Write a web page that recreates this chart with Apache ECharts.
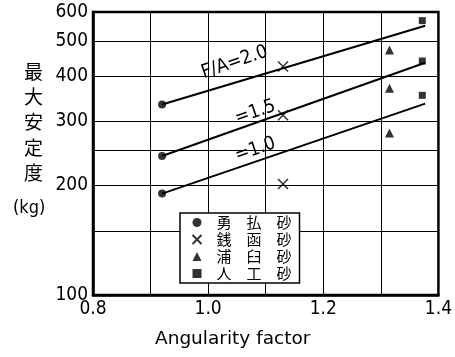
<!DOCTYPE html>
<html>
<head>
<meta charset="utf-8">
<script src="https://cdn.jsdelivr.net/npm/echarts@6/dist/echarts.min.js"></script>
<style>
html,body{margin:0;padding:0;background:#fff;}
#c{width:455px;height:357px;}
</style>
</head>
<body>
<div id="c"></div>
<script>
// ---- data ----
var xTickLabels = [0.8, 1.0, 1.2, 1.4];
var xGridValues = [0.8, 0.9, 1.0, 1.1, 1.2, 1.3, 1.4];
var yTickLabels = [100, 200, 300, 400, 500, 600];
var yGridValues = [100, 150, 200, 250, 300, 400, 500, 600];

var sandNames = ['勇払砂', '銭函砂', '浦臼砂', '人工砂'];
var yufutsu = [[0.92, 334], [0.92, 241], [0.92, 190]];
var zenibako = [[1.13, 425], [1.13, 312], [1.13, 202]];
var urausu = [[1.315, 472], [1.315, 370], [1.315, 279]];
var jinko = [[1.372, 568], [1.372, 440], [1.372, 354]];

var lineNames = ['F/A=2.0', '=1.5', '=1.0'];
var lineFA20 = [[0.92, 334], [1.377, 550]];
var lineFA15 = [[0.92, 241], [1.377, 435]];
var lineFA10 = [[0.92, 190], [1.377, 336]];

var lineLabelAt = [[1.046, 436], [1.082, 318], [1.082, 251]];

var xTitle = 'Angularity factor';
var yTitle = '最\n大\n安\n定\n度';
var yUnit = '(kg)';

var numFont = 'DejaVu Sans Condensed';
var cjkFont = 'Noto Sans CJK JP';

function lineSeries(name, data, labelCoord) {
  return {
    name: name,
    type: 'line',
    data: data,
    symbol: 'none',
    silent: true,
    z: 3,
    lineStyle: { color: '#000', width: 2 },
    markPoint: {
      symbol: 'circle',
      symbolSize: 0,
      silent: true,
      data: [{ coord: labelCoord, value: name }],
      label: {
        show: true,
        position: 'inside',
        formatter: name,
        rotate: 19,
        color: '#000',
        fontFamily: numFont,
        fontSize: 19
      }
    }
  };
}

var chart = echarts.init(document.getElementById('c'), null, { renderer: 'canvas' });
chart.setOption({
  animation: false,
  backgroundColor: '#fff',
  grid: {
    left: 93, right: 12, top: 12, bottom: 62,
    show: true, borderColor: '#000', borderWidth: 2.5, backgroundColor: 'transparent'
  },
  xAxis: {
    type: 'value',
    min: 0.8, max: 1.4,
    axisLine: { show: true, lineStyle: { color: '#000', width: 2.5 } },
    axisTick: { show: false, customValues: xGridValues },
    axisLabel: {
      customValues: xTickLabels,
      formatter: function (v) { return v.toFixed(1); },
      color: '#000', fontFamily: numFont, fontSize: 19, margin: 5
    },
    splitLine: { show: true, lineStyle: { color: '#000', width: 1 } }
  },
  yAxis: {
    type: 'log',
    logBase: 10,
    min: 100, max: 600,
    axisLine: { show: true, lineStyle: { color: '#000', width: 2.5 } },
    axisTick: { show: false, customValues: yGridValues },
    axisLabel: {
      customValues: yTickLabels,
      color: '#000', fontFamily: numFont, fontSize: 19, margin: 5
    },
    splitLine: { show: true, lineStyle: { color: '#000', width: 1 } }
  },
  legend: {
    data: sandNames,
    orient: 'vertical',
    left: 180, top: 213,
    padding: [2, 8, 2, 10],
    itemGap: 2,
    itemWidth: 9, itemHeight: 9,
    backgroundColor: '#fff',
    borderColor: '#000', borderWidth: 1.5,
    selectedMode: false,
    formatter: function (n) { return n.split('').join('\u3000'); },
    textStyle: { color: '#000', fontFamily: cjkFont, fontSize: 15, lineHeight: 15, padding: [0, 0, 0, 10] }
  },
  graphic: [
    {
      type: 'text', left: 24, top: 59,
      style: { text: yTitle, fill: '#000', font: '19px "Noto Sans CJK JP"', lineHeight: 25.25 }
    },
    {
      type: 'text', left: 13, top: 199,
      style: { text: yUnit, fill: '#000', font: '18px "DejaVu Sans Condensed"' }
    },
    {
      type: 'text', left: 155, top: 330,
      style: { text: xTitle, fill: '#000', font: '18.5px "DejaVu Sans"' }
    }
  ],
  series: [
    lineSeries(lineNames[0], lineFA20, lineLabelAt[0]),
    lineSeries(lineNames[1], lineFA15, lineLabelAt[1]),
    lineSeries(lineNames[2], lineFA10, lineLabelAt[2]),
    {
      name: sandNames[0], type: 'scatter', data: yufutsu, z: 4,
      symbol: 'circle', symbolSize: 8, itemStyle: { color: '#000' }
    },
    {
      name: sandNames[1], type: 'scatter', data: zenibako, z: 4,
      symbol: 'path://M0,0L10,10M10,0L0,10', symbolSize: 10,
      itemStyle: { color: 'none', borderColor: '#000', borderWidth: 1.5 }
    },
    {
      name: sandNames[2], type: 'scatter', data: urausu, z: 4,
      symbol: 'triangle', symbolSize: 9, itemStyle: { color: '#000' }
    },
    {
      name: sandNames[3], type: 'scatter', data: jinko, z: 4,
      symbol: 'rect', symbolSize: 7, itemStyle: { color: '#000' }
    }
  ]
});
</script>
</body>
</html>
